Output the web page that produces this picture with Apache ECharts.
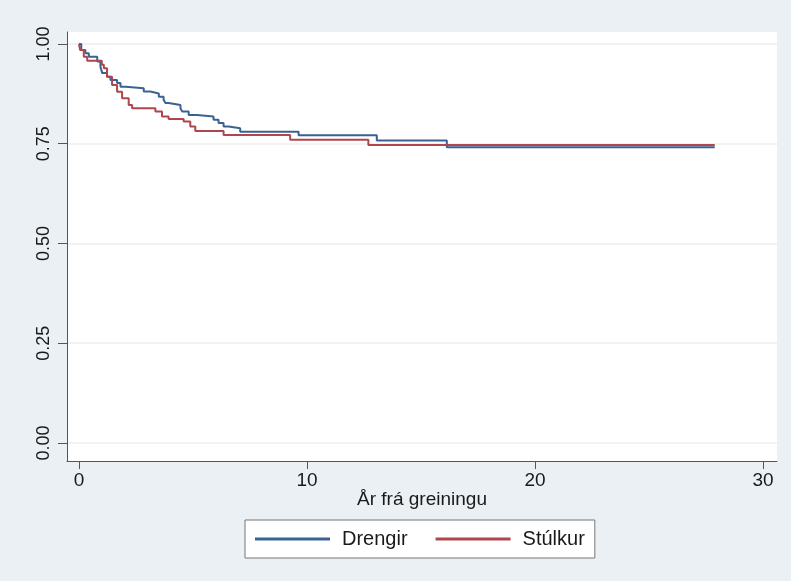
<!DOCTYPE html>
<html>
<head>
<meta charset="utf-8">
<script src="https://cdn.jsdelivr.net/npm/echarts@6/dist/echarts.min.js"></script>
<style>
html,body{margin:0;padding:0;background:#eaf0f4;}
#chart{width:791px;height:581px;}
</style>
</head>
<body>
<div id="chart"></div>
<script>
// Kaplan-Meier step data (time in years, survival after each event)
const drengirTime = [0, 0.1, 0.28, 0.43, 0.8, 0.94, 1.02, 1.23, 1.38, 1.67, 1.82, 2.04, 2.84, 3.13, 3.5, 3.71, 3.79, 3.93, 4.45, 4.52, 4.81, 5.18, 5.9, 6.12, 6.34, 6.56, 7.07, 9.63, 13.06, 16.13, 27.88];
const drengirSurv = [1.0, 0.985, 0.977, 0.968, 0.956, 0.943, 0.927, 0.918, 0.91, 0.902, 0.893, 0.889, 0.881, 0.876, 0.868, 0.86, 0.852, 0.847, 0.839, 0.831, 0.822, 0.818, 0.81, 0.802, 0.793, 0.789, 0.78, 0.771, 0.758, 0.741, 0.741];
const stulkurTime = [0, 0.05, 0.21, 0.36, 1.0, 1.09, 1.23, 1.45, 1.67, 1.89, 2.18, 2.33, 3.35, 3.64, 3.93, 4.59, 4.88, 5.1, 6.34, 9.26, 12.69, 27.88];
const stulkurSurv = [1.0, 0.985, 0.968, 0.958, 0.948, 0.939, 0.918, 0.897, 0.88, 0.864, 0.847, 0.839, 0.831, 0.818, 0.812, 0.806, 0.793, 0.782, 0.772, 0.76, 0.747, 0.747];
const seriesNames = ['Drengir', 'Stúlkur'];
const xTicks = [0, 10, 20, 30];
const yTicks = [0, 0.25, 0.5, 0.75, 1.0];
const xTitle = 'År frá greiningu';

const zip = (t, s) => t.map((v, i) => [v, s[i]]);
const font = 'Liberation Sans, Arial, Helvetica, sans-serif';

const chart = echarts.init(document.getElementById('chart'), null, {renderer: 'canvas'});
chart.setOption({
  animation: false,
  backgroundColor: '#eaf0f4',
  grid: {
    left: 67, right: 14, top: 32, bottom: 120,
    show: true, backgroundColor: '#ffffff', borderWidth: 0
  },
  xAxis: {
    type: 'value',
    min: -0.526, max: 30.61,
    name: xTitle,
    nameLocation: 'middle',
    nameGap: 29,
    nameMoveOverlap: false,
    nameTextStyle: {fontFamily: font, fontSize: 19, color: '#1a1a1a'},
    axisLine: {show: true, onZero: false, lineStyle: {color: '#555', width: 1}},
    axisTick: {show: true, length: 8, customValues: xTicks, lineStyle: {color: '#555'}},
    axisLabel: {customValues: xTicks, margin: 10, fontFamily: font, fontSize: 19, color: '#1a1a1a'},
    splitLine: {show: false}
  },
  yAxis: {
    type: 'value',
    min: -0.0451, max: 1.030,
    axisLine: {show: true, onZero: false, lineStyle: {color: '#555', width: 1}},
    axisTick: {show: true, length: 9, customValues: yTicks, lineStyle: {color: '#555'}},
    axisLabel: {customValues: yTicks, rotate: 90, margin: 14, fontFamily: font, fontSize: 18, color: '#1a1a1a',
      formatter: v => v.toFixed(2)},
    splitLine: {show: true, lineStyle: {color: '#e8eff3', width: 1.5}}
  },
  legend: {
    data: seriesNames,
    left: 245,
    top: 520,
    orient: 'horizontal',
    backgroundColor: '#ffffff',
    borderColor: '#777',
    borderWidth: 1,
    borderRadius: 0,
    padding: [9, 10, 9, 10],
    itemWidth: 75,
    itemHeight: 3,
    itemGap: 28,
    icon: 'rect',
    textStyle: {fontFamily: font, fontSize: 20, color: '#1a1a1a', padding: [0, 0, 0, 7]}
  },
  series: [
    {
      name: seriesNames[0], type: 'line', step: 'end', showSymbol: false,
      data: zip(drengirTime, drengirSurv),
      itemStyle: {color: '#3a6290'},
      lineStyle: {color: '#3a6290', width: 2}
    },
    {
      name: seriesNames[1], type: 'line', step: 'end', showSymbol: false,
      data: zip(stulkurTime, stulkurSurv),
      itemStyle: {color: '#b0464d'},
      lineStyle: {color: '#b0464d', width: 2}
    }
  ]
});
</script>
</body>
</html>
